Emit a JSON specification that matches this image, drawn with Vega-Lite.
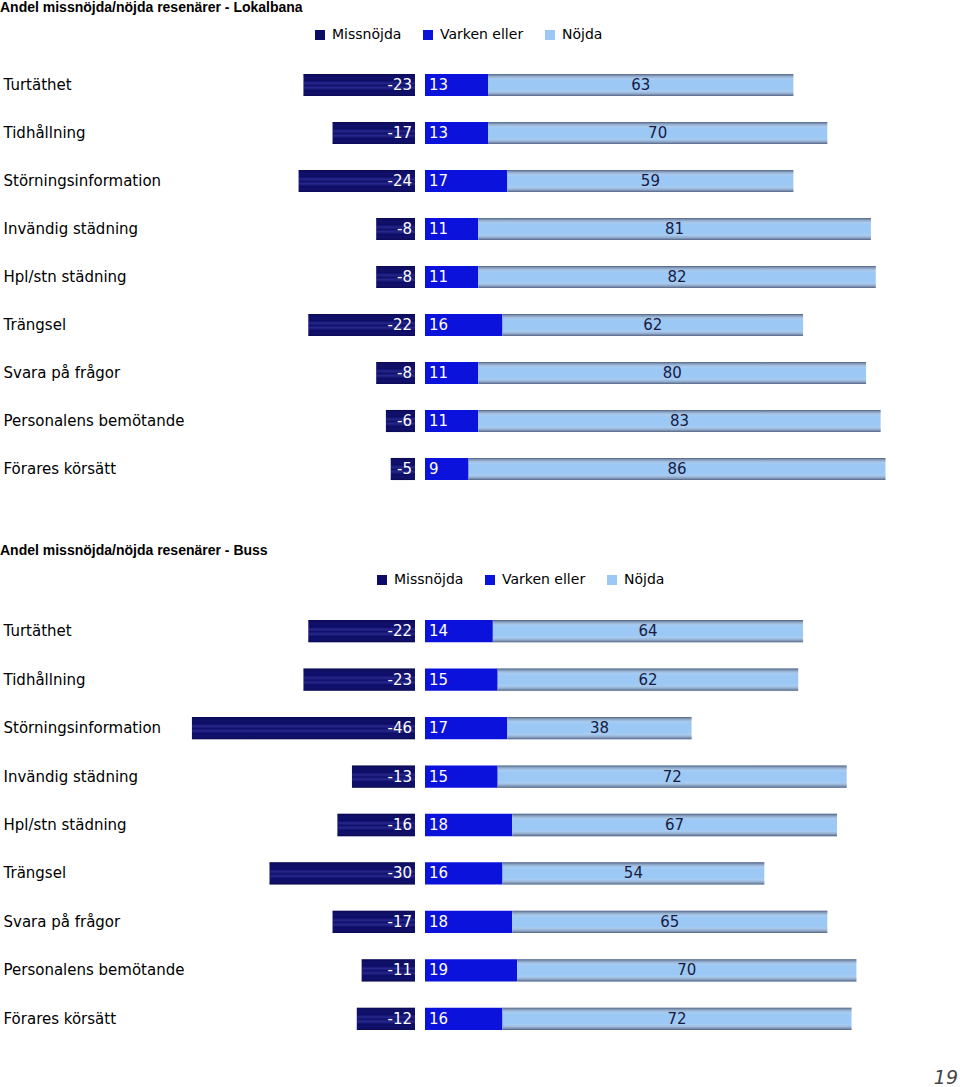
{
  "$schema": "https://vega.github.io/schema/vega-lite/v6.json",
  "background": "white",
  "padding": {"left": 0, "right": 0, "top": 1, "bottom": 0},
  "spacing": 51,
  "title": {"text": "19", "orient": "bottom", "anchor": "end", "font": "DejaVu Sans", "fontSize": 19, "fontStyle": "italic", "fontWeight": "normal", "color": "#444", "offset": 26},
  "config": {"view": {"stroke": null}},
  "data": {"values": [
    {"panel": "Lokalbana", "cat": "Turtäthet", "group": "Missnöjda", "value": -23},
    {"panel": "Lokalbana", "cat": "Turtäthet", "group": "Varken eller", "value": 13},
    {"panel": "Lokalbana", "cat": "Turtäthet", "group": "Nöjda", "value": 63},
    {"panel": "Lokalbana", "cat": "Tidhållning", "group": "Missnöjda", "value": -17},
    {"panel": "Lokalbana", "cat": "Tidhållning", "group": "Varken eller", "value": 13},
    {"panel": "Lokalbana", "cat": "Tidhållning", "group": "Nöjda", "value": 70},
    {"panel": "Lokalbana", "cat": "Störningsinformation", "group": "Missnöjda", "value": -24},
    {"panel": "Lokalbana", "cat": "Störningsinformation", "group": "Varken eller", "value": 17},
    {"panel": "Lokalbana", "cat": "Störningsinformation", "group": "Nöjda", "value": 59},
    {"panel": "Lokalbana", "cat": "Invändig städning", "group": "Missnöjda", "value": -8},
    {"panel": "Lokalbana", "cat": "Invändig städning", "group": "Varken eller", "value": 11},
    {"panel": "Lokalbana", "cat": "Invändig städning", "group": "Nöjda", "value": 81},
    {"panel": "Lokalbana", "cat": "Hpl/stn städning", "group": "Missnöjda", "value": -8},
    {"panel": "Lokalbana", "cat": "Hpl/stn städning", "group": "Varken eller", "value": 11},
    {"panel": "Lokalbana", "cat": "Hpl/stn städning", "group": "Nöjda", "value": 82},
    {"panel": "Lokalbana", "cat": "Trängsel", "group": "Missnöjda", "value": -22},
    {"panel": "Lokalbana", "cat": "Trängsel", "group": "Varken eller", "value": 16},
    {"panel": "Lokalbana", "cat": "Trängsel", "group": "Nöjda", "value": 62},
    {"panel": "Lokalbana", "cat": "Svara på frågor", "group": "Missnöjda", "value": -8},
    {"panel": "Lokalbana", "cat": "Svara på frågor", "group": "Varken eller", "value": 11},
    {"panel": "Lokalbana", "cat": "Svara på frågor", "group": "Nöjda", "value": 80},
    {"panel": "Lokalbana", "cat": "Personalens bemötande", "group": "Missnöjda", "value": -6},
    {"panel": "Lokalbana", "cat": "Personalens bemötande", "group": "Varken eller", "value": 11},
    {"panel": "Lokalbana", "cat": "Personalens bemötande", "group": "Nöjda", "value": 83},
    {"panel": "Lokalbana", "cat": "Förares körsätt", "group": "Missnöjda", "value": -5},
    {"panel": "Lokalbana", "cat": "Förares körsätt", "group": "Varken eller", "value": 9},
    {"panel": "Lokalbana", "cat": "Förares körsätt", "group": "Nöjda", "value": 86},
    {"panel": "Buss", "cat": "Turtäthet", "group": "Missnöjda", "value": -22},
    {"panel": "Buss", "cat": "Turtäthet", "group": "Varken eller", "value": 14},
    {"panel": "Buss", "cat": "Turtäthet", "group": "Nöjda", "value": 64},
    {"panel": "Buss", "cat": "Tidhållning", "group": "Missnöjda", "value": -23},
    {"panel": "Buss", "cat": "Tidhållning", "group": "Varken eller", "value": 15},
    {"panel": "Buss", "cat": "Tidhållning", "group": "Nöjda", "value": 62},
    {"panel": "Buss", "cat": "Störningsinformation", "group": "Missnöjda", "value": -46},
    {"panel": "Buss", "cat": "Störningsinformation", "group": "Varken eller", "value": 17},
    {"panel": "Buss", "cat": "Störningsinformation", "group": "Nöjda", "value": 38},
    {"panel": "Buss", "cat": "Invändig städning", "group": "Missnöjda", "value": -13},
    {"panel": "Buss", "cat": "Invändig städning", "group": "Varken eller", "value": 15},
    {"panel": "Buss", "cat": "Invändig städning", "group": "Nöjda", "value": 72},
    {"panel": "Buss", "cat": "Hpl/stn städning", "group": "Missnöjda", "value": -16},
    {"panel": "Buss", "cat": "Hpl/stn städning", "group": "Varken eller", "value": 18},
    {"panel": "Buss", "cat": "Hpl/stn städning", "group": "Nöjda", "value": 67},
    {"panel": "Buss", "cat": "Trängsel", "group": "Missnöjda", "value": -30},
    {"panel": "Buss", "cat": "Trängsel", "group": "Varken eller", "value": 16},
    {"panel": "Buss", "cat": "Trängsel", "group": "Nöjda", "value": 54},
    {"panel": "Buss", "cat": "Svara på frågor", "group": "Missnöjda", "value": -17},
    {"panel": "Buss", "cat": "Svara på frågor", "group": "Varken eller", "value": 18},
    {"panel": "Buss", "cat": "Svara på frågor", "group": "Nöjda", "value": 65},
    {"panel": "Buss", "cat": "Personalens bemötande", "group": "Missnöjda", "value": -11},
    {"panel": "Buss", "cat": "Personalens bemötande", "group": "Varken eller", "value": 19},
    {"panel": "Buss", "cat": "Personalens bemötande", "group": "Nöjda", "value": 70},
    {"panel": "Buss", "cat": "Förares körsätt", "group": "Missnöjda", "value": -12},
    {"panel": "Buss", "cat": "Förares körsätt", "group": "Varken eller", "value": 16},
    {"panel": "Buss", "cat": "Förares körsätt", "group": "Nöjda", "value": 72}
  ]},
  "resolve": {"scale": {"color": "independent"}},
  "vconcat": [
    {
      "title": {"text": "Andel missnöjda/nöjda resenärer - Lokalbana", "anchor": "start", "font": "Liberation Sans", "fontSize": 14, "fontWeight": "bold", "color": "#000", "offset": 13, "dx": -3},
      "width": 768,
      "height": 432,
      "transform": [{"filter": "datum.panel == 'Lokalbana'"}],
      "encoding": {
        "y": {"field": "cat", "type": "nominal",
          "sort": ["Turtäthet", "Tidhållning", "Störningsinformation", "Invändig städning", "Hpl/stn städning", "Trängsel", "Svara på frågor", "Personalens bemötande", "Förares körsätt"],
          "scale": {"paddingInner": 0.54, "paddingOuter": 0.27},
          "axis": {"title": null, "ticks": false, "domain": false, "grid": false, "labelAlign": "left", "labelPadding": 187, "labelFont": "DejaVu Sans", "labelFontSize": 15, "labelColor": "#000", "labelLimit": 300}}
      },
      "resolve": {"scale": {"x": "independent"}},
      "layer": [
        {
          "transform": [{"filter": "datum.group == 'Missnöjda'"}],
          "mark": {"type": "bar"},
          "encoding": {
            "x": {"field": "value", "type": "quantitative", "scale": {"domain": [-46.4, 0], "range": [0, 225], "nice": false, "zero": false}, "axis": null},
            "x2": {"datum": 0},
            "color": {"field": "group", "type": "nominal",
              "scale": {"domain": ["Missnöjda", "Varken eller", "Nöjda"], "range": ["#0c0c66", "#0a12dc", "#9cc8f5"]},
              "legend": {"orient": "none", "legendX": 123, "legendY": -33, "direction": "horizontal", "title": null, "symbolType": "square", "symbolSize": 100, "symbolStrokeWidth": 0, "labelFont": "DejaVu Sans", "labelFontSize": 14, "labelColor": "#000", "columnPadding": 19, "labelOffset": 5}}
          }
        },
        {
          "transform": [{"filter": "datum.group == 'Missnöjda'"}],
          "mark": {"type": "bar", "color": {"gradient": "linear", "x1": 0, "y1": 0, "x2": 0, "y2": 1, "stops": [
            {"offset": 0, "color": "rgba(0,0,40,0.3)"},
            {"offset": 0.3, "color": "rgba(80,80,200,0.0)"},
            {"offset": 0.42, "color": "rgba(90,90,210,0.35)"},
            {"offset": 0.52, "color": "rgba(90,90,210,0.05)"},
            {"offset": 0.62, "color": "rgba(90,90,210,0.35)"},
            {"offset": 0.75, "color": "rgba(80,80,200,0.0)"},
            {"offset": 1, "color": "rgba(0,0,40,0.3)"}]}},
          "encoding": {
            "x": {"field": "value", "type": "quantitative", "scale": {"domain": [-46.4, 0], "range": [0, 225], "nice": false, "zero": false}, "axis": null},
            "x2": {"datum": 0}
          }
        },
        {
          "transform": [{"filter": "datum.group == 'Missnöjda'"}],
          "mark": {"type": "text", "align": "right", "dx": -3, "color": "white", "font": "DejaVu Sans", "fontSize": 15},
          "encoding": {
            "x": {"datum": 0, "type": "quantitative", "scale": {"domain": [-46.4, 0], "range": [0, 225], "nice": false, "zero": false}, "axis": null},
            "text": {"field": "value", "type": "nominal"}
          }
        },
        {
          "transform": [
            {"filter": "datum.group != 'Missnöjda'"},
            {"stack": "value", "groupby": ["cat"], "sort": [{"field": "group", "order": "descending"}], "as": ["v0", "v1"]}
          ],
          "mark": {"type": "bar"},
          "encoding": {
            "x": {"field": "v0", "type": "quantitative", "scale": {"domain": [0, 98], "range": [235, 710], "nice": false, "zero": false}, "axis": null},
            "x2": {"field": "v1"},
            "color": {"field": "group", "type": "nominal",
              "scale": {"domain": ["Missnöjda", "Varken eller", "Nöjda"], "range": ["#0c0c66", "#0a12dc", "#9cc8f5"]},
              "legend": {"orient": "none", "legendX": 123, "legendY": -33, "direction": "horizontal", "title": null, "symbolType": "square", "symbolSize": 100, "symbolStrokeWidth": 0, "labelFont": "DejaVu Sans", "labelFontSize": 14, "labelColor": "#000", "columnPadding": 19, "labelOffset": 5}}
          }
        },
        {
          "transform": [
            {"filter": "datum.group != 'Missnöjda'"},
            {"stack": "value", "groupby": ["cat"], "sort": [{"field": "group", "order": "descending"}], "as": ["v0", "v1"]},
            {"filter": "datum.group == 'Nöjda'"}
          ],
          "mark": {"type": "bar", "color": {"gradient": "linear", "x1": 0, "y1": 0, "x2": 0, "y2": 1, "stops": [
            {"offset": 0, "color": "rgba(60,70,100,0.8)"},
            {"offset": 0.3, "color": "rgba(255,255,255,0.0)"},
            {"offset": 0.7, "color": "rgba(255,255,255,0.0)"},
            {"offset": 1, "color": "rgba(60,70,100,0.8)"}]}},
          "encoding": {
            "x": {"field": "v0", "type": "quantitative", "scale": {"domain": [0, 98], "range": [235, 710], "nice": false, "zero": false}, "axis": null},
            "x2": {"field": "v1"}
          }
        },
        {
          "transform": [{"filter": "datum.group == 'Varken eller'"}],
          "mark": {"type": "text", "align": "left", "dx": 4, "color": "white", "font": "DejaVu Sans", "fontSize": 15},
          "encoding": {
            "x": {"datum": 0, "type": "quantitative", "scale": {"domain": [0, 98], "range": [235, 710], "nice": false, "zero": false}, "axis": null},
            "text": {"field": "value", "type": "nominal"}
          }
        },
        {
          "transform": [
            {"filter": "datum.group != 'Missnöjda'"},
            {"stack": "value", "groupby": ["cat"], "sort": [{"field": "group", "order": "descending"}], "as": ["v0", "v1"]},
            {"filter": "datum.group == 'Nöjda'"},
            {"fold": ["v0", "v1"], "as": ["k", "pos"]},
            {"aggregate": [{"op": "mean", "field": "pos", "as": "mid"}, {"op": "max", "field": "value", "as": "nv"}], "groupby": ["cat"]}
          ],
          "mark": {"type": "text", "align": "center", "color": "#1a1a3c", "font": "DejaVu Sans", "fontSize": 15},
          "encoding": {
            "x": {"field": "mid", "type": "quantitative", "scale": {"domain": [0, 98], "range": [235, 710], "nice": false, "zero": false}, "axis": null},
            "text": {"field": "nv", "type": "nominal"}
          }
        }
      ]
    },
    {
      "title": {"text": "Andel missnöjda/nöjda resenärer - Buss", "anchor": "start", "font": "Liberation Sans", "fontSize": 14, "fontWeight": "bold", "color": "#000", "offset": 15, "dx": -3},
      "width": 768,
      "height": 436,
      "transform": [{"filter": "datum.panel == 'Buss'"}],
      "encoding": {
        "y": {"field": "cat", "type": "nominal",
          "sort": ["Turtäthet", "Tidhållning", "Störningsinformation", "Invändig städning", "Hpl/stn städning", "Trängsel", "Svara på frågor", "Personalens bemötande", "Förares körsätt"],
          "scale": {"paddingInner": 0.54, "paddingOuter": 0.27},
          "axis": {"title": null, "ticks": false, "domain": false, "grid": false, "labelAlign": "left", "labelPadding": 187, "labelFont": "DejaVu Sans", "labelFontSize": 15, "labelColor": "#000", "labelLimit": 300}}
      },
      "resolve": {"scale": {"x": "independent"}},
      "layer": [
        {
          "transform": [{"filter": "datum.group == 'Missnöjda'"}],
          "mark": {"type": "bar"},
          "encoding": {
            "x": {"field": "value", "type": "quantitative", "scale": {"domain": [-46.4, 0], "range": [0, 225], "nice": false, "zero": false}, "axis": null},
            "x2": {"datum": 0},
            "color": {"field": "group", "type": "nominal",
              "scale": {"domain": ["Missnöjda", "Varken eller", "Nöjda"], "range": ["#0c0c66", "#0a12dc", "#9cc8f5"]},
              "legend": {"orient": "none", "legendX": 185, "legendY": -34, "direction": "horizontal", "title": null, "symbolType": "square", "symbolSize": 100, "symbolStrokeWidth": 0, "labelFont": "DejaVu Sans", "labelFontSize": 14, "labelColor": "#000", "columnPadding": 19, "labelOffset": 5}}
          }
        },
        {
          "transform": [{"filter": "datum.group == 'Missnöjda'"}],
          "mark": {"type": "bar", "color": {"gradient": "linear", "x1": 0, "y1": 0, "x2": 0, "y2": 1, "stops": [
            {"offset": 0, "color": "rgba(0,0,40,0.3)"},
            {"offset": 0.3, "color": "rgba(80,80,200,0.0)"},
            {"offset": 0.42, "color": "rgba(90,90,210,0.35)"},
            {"offset": 0.52, "color": "rgba(90,90,210,0.05)"},
            {"offset": 0.62, "color": "rgba(90,90,210,0.35)"},
            {"offset": 0.75, "color": "rgba(80,80,200,0.0)"},
            {"offset": 1, "color": "rgba(0,0,40,0.3)"}]}},
          "encoding": {
            "x": {"field": "value", "type": "quantitative", "scale": {"domain": [-46.4, 0], "range": [0, 225], "nice": false, "zero": false}, "axis": null},
            "x2": {"datum": 0}
          }
        },
        {
          "transform": [{"filter": "datum.group == 'Missnöjda'"}],
          "mark": {"type": "text", "align": "right", "dx": -3, "color": "white", "font": "DejaVu Sans", "fontSize": 15},
          "encoding": {
            "x": {"datum": 0, "type": "quantitative", "scale": {"domain": [-46.4, 0], "range": [0, 225], "nice": false, "zero": false}, "axis": null},
            "text": {"field": "value", "type": "nominal"}
          }
        },
        {
          "transform": [
            {"filter": "datum.group != 'Missnöjda'"},
            {"stack": "value", "groupby": ["cat"], "sort": [{"field": "group", "order": "descending"}], "as": ["v0", "v1"]}
          ],
          "mark": {"type": "bar"},
          "encoding": {
            "x": {"field": "v0", "type": "quantitative", "scale": {"domain": [0, 98], "range": [235, 710], "nice": false, "zero": false}, "axis": null},
            "x2": {"field": "v1"},
            "color": {"field": "group", "type": "nominal",
              "scale": {"domain": ["Missnöjda", "Varken eller", "Nöjda"], "range": ["#0c0c66", "#0a12dc", "#9cc8f5"]},
              "legend": {"orient": "none", "legendX": 185, "legendY": -34, "direction": "horizontal", "title": null, "symbolType": "square", "symbolSize": 100, "symbolStrokeWidth": 0, "labelFont": "DejaVu Sans", "labelFontSize": 14, "labelColor": "#000", "columnPadding": 19, "labelOffset": 5}}
          }
        },
        {
          "transform": [
            {"filter": "datum.group != 'Missnöjda'"},
            {"stack": "value", "groupby": ["cat"], "sort": [{"field": "group", "order": "descending"}], "as": ["v0", "v1"]},
            {"filter": "datum.group == 'Nöjda'"}
          ],
          "mark": {"type": "bar", "color": {"gradient": "linear", "x1": 0, "y1": 0, "x2": 0, "y2": 1, "stops": [
            {"offset": 0, "color": "rgba(60,70,100,0.8)"},
            {"offset": 0.3, "color": "rgba(255,255,255,0.0)"},
            {"offset": 0.7, "color": "rgba(255,255,255,0.0)"},
            {"offset": 1, "color": "rgba(60,70,100,0.8)"}]}},
          "encoding": {
            "x": {"field": "v0", "type": "quantitative", "scale": {"domain": [0, 98], "range": [235, 710], "nice": false, "zero": false}, "axis": null},
            "x2": {"field": "v1"}
          }
        },
        {
          "transform": [{"filter": "datum.group == 'Varken eller'"}],
          "mark": {"type": "text", "align": "left", "dx": 4, "color": "white", "font": "DejaVu Sans", "fontSize": 15},
          "encoding": {
            "x": {"datum": 0, "type": "quantitative", "scale": {"domain": [0, 98], "range": [235, 710], "nice": false, "zero": false}, "axis": null},
            "text": {"field": "value", "type": "nominal"}
          }
        },
        {
          "transform": [
            {"filter": "datum.group != 'Missnöjda'"},
            {"stack": "value", "groupby": ["cat"], "sort": [{"field": "group", "order": "descending"}], "as": ["v0", "v1"]},
            {"filter": "datum.group == 'Nöjda'"},
            {"fold": ["v0", "v1"], "as": ["k", "pos"]},
            {"aggregate": [{"op": "mean", "field": "pos", "as": "mid"}, {"op": "max", "field": "value", "as": "nv"}], "groupby": ["cat"]}
          ],
          "mark": {"type": "text", "align": "center", "color": "#1a1a3c", "font": "DejaVu Sans", "fontSize": 15},
          "encoding": {
            "x": {"field": "mid", "type": "quantitative", "scale": {"domain": [0, 98], "range": [235, 710], "nice": false, "zero": false}, "axis": null},
            "text": {"field": "nv", "type": "nominal"}
          }
        }
      ]
    }
  ]
}
